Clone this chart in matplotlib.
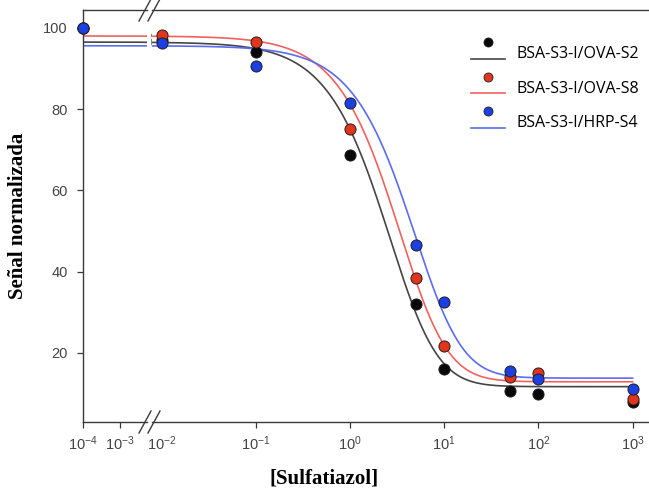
import numpy as np
import matplotlib
matplotlib.use('Agg')
import matplotlib.pyplot as plt
from matplotlib.lines import Line2D
from matplotlib.legend_handler import HandlerBase

plt.rcParams['font.family'] = ['Liberation Sans', 'DejaVu Sans']
plt.rcParams['mathtext.fontset'] = 'custom'
plt.rcParams['mathtext.rm'] = 'Liberation Sans'
plt.rcParams['mathtext.it'] = 'Liberation Sans'

# data
conc = [1e-4, 1e-2, 1e-1, 1, 5, 10, 50, 100, 1000]
ova_s2 = [100, 97.0, 94.0, 68.8, 32.0, 16.0, 10.7, 9.9, 8.0]
ova_s8 = [100, 98.3, 96.6, 75.0, 38.5, 21.7, 14.0, 15.0, 8.6]
hrp_s4 = [100, 96.3, 90.5, 81.5, 46.6, 32.5, 15.6, 13.6, 11.1]
labels = ['BSA-S3-I/OVA-S2', 'BSA-S3-I/OVA-S8', 'BSA-S3-I/HRP-S4']

# fitted logistic curves: top, bottom, midpoint, slope, asymmetry
fit_s2 = (96.5, 11.7, 5.7, 1.2, 2.5)
fit_s8 = (98.0, 12.9, 7.3, 1.2, 2.5)
fit_s4 = (95.6, 13.8, 10.5, 1.2, 2.5)

point_colors = ['#080808', '#e2351c', '#1c3fe2']
line_colors = ['#454545', '#f0625e', '#5a6cf0']

yticks = [20, 40, 60, 80, 100]


def logistic(x, top, bottom, c, h, s):
    return bottom + (top - bottom) / (1 + (x / c) ** h) ** s


class MarkerAboveLine(HandlerBase):
    def create_artists(self, legend, orig_handle, xdescent, ydescent,
                       width, height, fontsize, trans):
        yc = height / 2 - ydescent
        ln = Line2D([-xdescent, -xdescent + width], [yc - 4.5, yc - 4.5],
                    color=orig_handle.get_color(), lw=1.2)
        mk = Line2D([-xdescent + width / 2], [yc + 7.5], ls='none', marker='o',
                    ms=6.5, mfc=orig_handle.get_markerfacecolor(),
                    mec='#202020', mew=0.6)
        ln.set_transform(trans)
        mk.set_transform(trans)
        return [ln, mk]


W, H = 649, 492
fig = plt.figure(figsize=(W / 100, H / 100), dpi=100)
bot = 1 - 422 / H
hgt = (422 - 10) / H
axl = fig.add_axes([83 / W, bot, (147 - 83) / W, hgt])
axr = fig.add_axes([152 / W, bot, (W - 152) / W, hgt])

xx = np.logspace(-4, 3, 600)
series = [ova_s2, ova_s8, hrp_s4]
fits = [fit_s2, fit_s8, fit_s4]

for ax in (axl, axr):
    for vals, fit, pc, lc in zip(series, fits, point_colors, line_colors):
        ax.plot(xx, logistic(xx, *fit), color=lc, lw=1.2, zorder=2)
        ax.plot(conc, vals, ls='none', marker='o', ms=8, mfc=pc,
                mec='#202020', mew=0.7, zorder=3, clip_on=False)
    ax.set_xscale('log')
    ax.set_ylim(3.0, 104.4)
    ax.spines['right'].set_visible(False)
    for side in ('top', 'bottom', 'left'):
        ax.spines[side].set_color('#3a3a3a')
        ax.spines[side].set_linewidth(1.0)
    ax.tick_params(axis='both', direction='out', length=4, width=0.9,
                   color='#3a3a3a', labelsize=10.5, labelcolor='#444444')
    ax.tick_params(axis='x', pad=5)
    ax.minorticks_off()

axl.set_xlim(1e-4, 10 ** (-4 + 64 / 37))
axl.set_xticks([1e-4, 1e-3])
axl.set_xticklabels(['$10^{-4}$', '$10^{-3}$'])
axl.set_yticks(yticks)
axl.tick_params(axis='y', pad=7)

axr.set_xlim(10 ** -2.102, 10 ** 3.174)
axr.set_xticks([1e-2, 1e-1, 1, 10, 100, 1000])
axr.set_xticklabels(['$10^{-2}$', '$10^{-1}$', '$10^{0}$', '$10^{1}$',
                     '$10^{2}$', '$10^{3}$'])
axr.set_yticks([])
axr.spines['left'].set_visible(False)
axr.get_xaxis().majorTicks[0].tick1line.set_visible(False)

# break marks
for xc in (145, 154):
    for yc in (10, 422):
        fig.add_artist(Line2D([(xc - 6) / W, (xc + 6) / W],
                              [1 - (yc + 11) / H, 1 - (yc - 11) / H],
                              color='#3a3a3a', lw=1.0))

handles = [Line2D([], [], color=lc, marker='o', mfc=pc)
           for pc, lc in zip(point_colors, line_colors)]
axr.legend(handles, labels, handler_map={Line2D: MarkerAboveLine()},
           loc='upper left', bbox_to_anchor=((468 - 152) / (W - 152), 0.92),
           frameon=False, handlelength=2.1, handletextpad=0.75,
           labelspacing=1.15, borderpad=0.2, borderaxespad=0,
           prop={'family': 'Open Sans', 'size': 11.5})

fig.text(18 / W, 1 - 216 / H, 'Señal normalizada', rotation=90,
         ha='center', va='center', family='Liberation Serif',
         weight='bold', size=15)
fig.text(324 / W, 1 - 478 / H, '[Sulfatiazol]', ha='center', va='center',
         family='Liberation Serif', weight='bold', size=15)

fig.savefig('out.png', dpi=100)
